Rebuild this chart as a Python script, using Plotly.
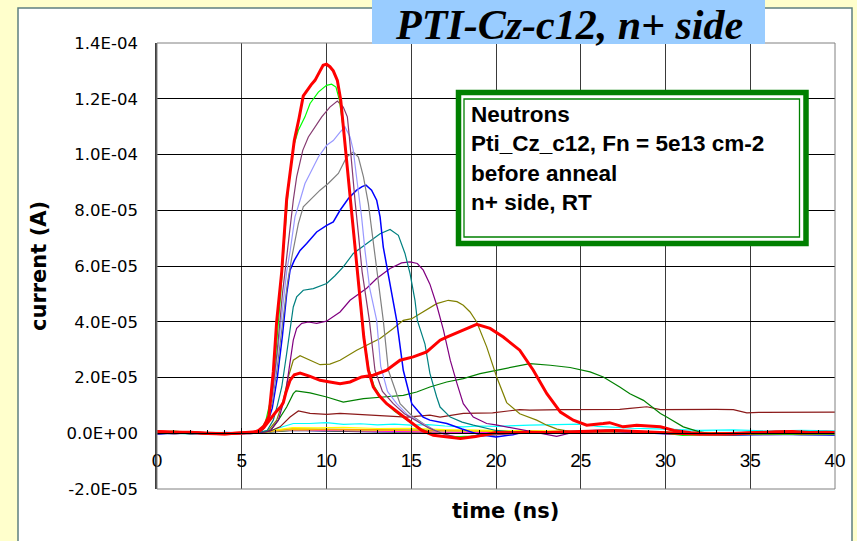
import plotly.graph_objects as go

# ---- axes ---------------------------------------------------------------
x_ticks = [0, 5, 10, 15, 20, 25, 30, 35, 40]
x_ticktext = ["0", "5", "10", "15", "20", "25", "30", "35", "40"]
y_ticks_uA = [-20, 0, 20, 40, 60, 80, 100, 120, 140]
y_ticktext = ["-2.0E-05", "0.0E+00", "2.0E-05", "4.0E-05", "6.0E-05",
              "8.0E-05", "1.0E-04", "1.2E-04", "1.4E-04"]

# ---- TCT current pulses: time in ns, current in uA -------------------------
t_r1 = [0, 1, 2, 3, 4, 5, 5.7, 6.0, 6.3, 6.6, 6.86, 7.06, 7.36, 7.65, 7.89, 8.1,
        8.38, 8.63, 9.09, 9.32, 9.62, 9.8, 10.0, 10.2, 10.4, 10.64, 10.84, 11.13,
        11.39, 11.68, 11.98, 12.2, 12.47, 12.76, 13.1, 13.55, 14.3, 15.1, 15.6,
        16.3, 17.0, 17.9, 18.8, 20.0, 21, 22, 23, 24, 25, 26, 27, 28, 29, 30, 31,
        32, 33, 34, 35, 36, 37, 38, 39, 40]
i_r1 = [0.6, 0.5, 0.3, 0.0, -0.2, 0.1, 0.3, 1.0, 2.5, 6, 22, 40, 58, 84, 95, 105,
        113, 121, 125, 126.6, 130, 132, 132.4, 131.5, 130, 126.6, 119.5, 101.5,
        83.6, 65.6, 46.6, 34.5, 22.6, 16.6, 13.5, 10.6, 7.1, 3.5, 1.1,
        -0.7, -1.3, -1.9, -1.2, 0.3, 0.2, 0.4, 0.3, 0.5, 0.6, 0.8, 1.0, 0.7, 0.4, 0.2, -0.3,
        -0.4, -0.2, -0.3, 0.1, 0.2, 0.3, 0.1, 0.2, 0.2]

t_g1 = [0, 1, 2, 3, 4, 5, 5.8, 6.1, 6.4, 6.7, 7.0, 7.3, 7.5, 7.75, 8.04, 8.34, 8.73,
        9.03, 9.52, 10.0, 10.3, 10.56, 10.76, 10.9, 11.03, 11.2, 11.45, 11.75, 12.0,
        12.25, 12.5, 12.8, 13.3, 14.0, 14.8, 15.6, 16.5, 17.5, 18.5, 19.5, 20.5, 22,
        24, 26, 27, 28, 30, 31, 32, 34, 36, 38, 40]
i_g1 = [0.3, 0.8, 0.2, -0.3, 0.2, 0.0, 0.4, 1.2, 4, 12, 28, 50, 68, 88, 102.7, 108.7, 113.5,
        118.3, 122.4, 124.8, 125.2, 124.2, 119.5, 113.5, 107.5, 97, 80, 62, 46,
        33, 23, 17, 12, 8, 4.5, 1.5, -0.8, -1.3, -1.0, -0.4, 0.2, 0.3,
        0.4, 0.9, 1.2, 0.6, 0.0, -0.8, -0.6, -0.5, -0.3, -0.4, -0.3]

t_p1 = [0, 1, 2, 3, 4, 5, 5.9, 6.2, 6.5, 6.8, 7.1, 7.4, 7.69, 7.85, 8.04, 8.24, 8.44,
        8.6, 8.93, 9.42, 9.72, 10.2, 10.64, 10.99, 11.23, 11.33, 11.49, 11.68, 11.88,
        12.1, 12.53, 12.86, 13.3, 13.94, 14.6, 15.3, 16.0, 16.8, 17.5, 18.3, 19.2, 20,
        21, 22, 23, 24, 25, 26, 27, 28, 29, 30, 32, 34, 36, 38, 40]
i_p1 = [-0.2, 0.3, 0.5, 0.1, -0.4, 0.2, 0.3, 1.5, 5, 14, 30, 50, 65.6, 74, 83.6, 92, 96.8,
        101.5, 106.3, 110.5, 113.5, 117, 119.2, 117, 113.5, 107.5, 95.5, 83.6, 71.6,
        58, 40.5, 22.6, 15, 10.6, 7, 4.5, 2, 0, -1.2, -1.5, -1, -0.5,
        0, 0.3, 0.1, 0.4, 0.7, 1, 1.2, 0.8, 0.5, 0.2, -0.3, -0.2, -0.4, 0.0, -0.2]

t_lb = [0, 1, 2, 3, 4, 5, 5.9, 6.2, 6.5, 6.8, 7.1, 7.4, 7.65, 7.86, 7.98, 8.14, 8.44,
        8.73, 9.03, 9.52, 10.01, 10.4, 10.8, 11.09, 11.39, 11.58, 11.82, 12.07, 12.27,
        12.55, 12.96, 13.2, 13.6, 14.14, 14.8, 15.5, 16.2, 17, 17.8, 18.6, 19.4, 20.2,
        21, 22, 23, 24, 25, 26, 27, 28, 29, 30, 32, 34, 36, 38, 40]
i_lb = [0.2, -0.3, 0.4, 0.2, 0.0, -0.2, 0.3, 1.3, 4.5, 13, 28, 45, 58, 65.6, 70.4, 77.6, 83.6,
        89.6, 93.2, 99.1, 103.3, 105, 108, 109.9, 106.3, 101.5, 89.6, 77.6, 65.6,
        52, 40.5, 24, 15, 10.6, 6.5, 4, 1.5, -0.5, -1.5, -1.3, -0.8, -0.3,
        0.1, 0.3, 0.2, 0.5, 0.8, 1.1, 0.9, 0.6, 0.3, 0.1, -0.2, -0.4, -0.1, -0.3, -0.1]

t_gr = [0, 1, 2, 3, 4, 5, 5.9, 6.2, 6.5, 6.8, 7.1, 7.4, 7.7, 7.95, 8.14, 8.34, 8.63,
        9.03, 9.62, 10.1, 10.7, 11.19, 11.58, 11.88, 12.18, 12.47, 12.72, 13.0, 13.35,
        13.65, 14.34, 15.0, 15.7, 16.4, 17.2, 18, 18.8, 19.6, 20.4, 21.2, 22, 23, 24,
        25, 26, 27, 28, 29, 30, 32, 34, 36, 38, 40]
i_gr = [0.1, 0.4, -0.2, 0.3, 0.2, 0.0, 0.2, 1, 4, 11, 24, 40, 54, 63, 69.2, 75.2, 81.2,
        83.6, 87.2, 89.6, 93.2, 99.1, 100.9, 99.1, 92, 82.4, 70.4, 56, 40.5,
        22.6, 10.6, 6.5, 3.5, 1, -0.8, -1.6, -1.2, -0.6, -0.2, 0.1, 0.3, 0.2, 0.5,
        0.7, 1.0, 0.8, 0.5, 0.3, 0.0, -0.3, -0.2, -0.4, -0.2, -0.3]

t_bl = [0, 1, 2, 3, 4, 5, 5.9, 6.2, 6.5, 6.8, 7.1, 7.4, 7.65, 7.85, 8.1, 8.44, 8.83,
        9.42, 10.01, 10.4, 10.8, 11.29, 11.78, 12.1, 12.33, 12.66, 12.96, 13.16, 13.35,
        13.55, 13.85, 14.14, 14.53, 15.03, 15.7, 16.1, 17.1, 18, 19, 20, 21, 21.5,
        22.5, 24, 25, 26, 27, 28, 29, 30, 32, 34, 36, 38, 40]
i_bl = [-0.3, 0.2, 0.0, -0.2, 0.3, 0.1, 0.2, 1, 3.5, 9, 20, 35, 50, 58.5, 62, 65.6, 68.1,
        72.2, 74.6, 75.8, 80, 84.2, 87.2, 88.5, 89, 87.2, 83.6, 77.6, 66.8,
        59.7, 50.1, 40.5, 22.6, 10.6, 5.8, 4.7, 3.5, 1.5, -0.5, -1.3, -0.5, 0.3,
        0.2, 0.4, 0.6, 0.9, 0.7, 0.3, 0.1, -0.2, -0.5, -0.6, -0.4, -0.5, -0.6]

t_te = [0, 1, 2, 3, 4, 5, 6.0, 6.5, 6.86, 7.1, 7.36, 7.65, 7.85, 8.04, 8.24, 8.63, 9.22,
        10.01, 10.5, 10.99, 11.58, 12.37, 13.16, 13.75, 14.24, 14.63, 14.93, 15.22,
        15.36, 15.81, 16.1, 16.5, 16.7, 17.3, 18.0, 18.66, 20, 21, 22, 23, 24, 25, 26,
        27, 28, 29, 30, 32, 34, 36, 38, 40]
i_te = [0.2, -0.2, 0.3, 0.0, -0.1, 0.2, 0.3, 1, 4.7, 10, 16.6, 28.6, 38.1, 45.3, 48.9, 51.3, 51.9,
        53.7, 56.5, 59.7, 64.5, 68.1, 71.6, 73.1, 71, 64.5, 57.3, 47.7,
        40.5, 32, 21.5, 13, 9.4, 5.8, 4, 2.9, 1, 0.5, 0.3, 0.4, 0.2, 0.5, 0.6,
        0.8, 0.7, 0.4, 0.2, -0.2, -0.3, -0.1, -0.3, -0.2]

t_p2 = [0, 1, 2, 3, 4, 5, 6.0, 6.4, 6.7, 7.16, 7.55, 7.85, 8.04, 8.24, 8.54, 8.93, 9.42,
        10.0, 10.8, 11.39, 11.98, 12.37, 12.96, 13.75, 14.43, 14.93, 15.36, 15.71,
        16.1, 16.5, 16.9, 17.3, 17.7, 18.07, 18.66, 19.45, 20.0, 21.6, 22.6, 23.58,
        24.6, 25.5, 26.5, 27.5, 28.5, 30, 32, 34, 36, 38, 40]
i_p2 = [0.1, 0.3, -0.2, 0.2, 0.0, -0.1, 0.2, 0.5, 1, 4.7, 13, 25, 33.4, 37.6, 39.4, 39.9, 39.4,
        40.2, 43.5, 47.7, 50.4, 52, 55.5, 59.1, 61.1, 61.5, 60.9, 58.5,
        53.5, 46, 37, 26.2, 17.8, 10.6, 5.8, 3.5, 3, 1.1, 0, -1.1,
        0.4, 0.5, 1, 0.8, 0.5, 0.2, -0.2, -0.3, -0.5, -0.3, -0.4]

t_ol = [0, 1, 2, 3, 4, 5, 6.0, 6.5, 7.06, 7.45, 7.75, 8.04, 8.44, 9.03, 9.62, 10.2, 10.8,
        11.78, 12.57, 13.16, 13.94, 14.53, 15.03, 15.71, 16.5, 17.19, 17.7, 18.07,
        18.47, 18.86, 19.45, 20.04, 20.63, 21.4, 22.4, 23.0, 23.6, 24.5, 25.5, 26.5,
        27.5, 28.5, 30, 32, 34, 36, 38, 40]
i_ol = [0.2, -0.1, 0.3, 0.1, -0.2, 0.0, 0.2, 0.5, 4.7, 11.8, 20.2, 26.2, 27.8, 26.2, 24.6, 24.8, 26.2,
        29.8, 32.2, 34, 37.6, 40.5, 41.1, 43.5, 46.5, 47.7, 47.2, 45.9,
        43.5, 39.9, 31, 20.2, 11, 7, 4.7, 2.9, 1.5, 0.5, 0.7, 1,
        0.8, 0.4, 0.1, -0.3, -0.2, -0.4, -0.2, -0.3]

t_r2 = [0, 1, 2, 3, 4, 5, 5.8, 6.0, 6.3, 6.6, 7.0, 7.3, 7.45, 7.6, 7.85, 8.1, 8.44,
        9.03, 9.62, 10.2, 10.8, 11.39, 12.07, 12.76, 13.55, 14.34, 15.12, 15.91, 16.7,
        17.09, 18.07, 18.86, 19.65, 20.43, 21.4, 22.2, 23.0, 23.8, 24.56, 25.35, 26.33,
        26.7, 27.5, 28.3, 29.7, 30.5, 31.5, 32.5, 33.5, 34.5, 35.5, 36.5, 37.5, 38.5,
        39.5, 40]
i_r2 = [0.5, 0.2, 0.4, -0.1, -0.3, 0.2, 0.4, 0.6, 2, 4.5, 7.5, 9.5, 11, 14.5, 19, 21, 21.6,
        20.4, 19, 18.4, 17.8, 18.4, 20.2, 20.8, 22.6, 26.2, 27.4, 29.2, 33.4,
        34.5, 37, 39.1, 37.6, 34.5, 29.8, 22.6, 14.2, 7.6, 4.7, 2.9, 3.5,
        3.8, 2.3, 2.9, 2.3, 1.0, 0.2, -0.3, -0.2, 0.1, 0.3, 0.5, 0.6, 0.3,
        0.4, 0.3]

t_g2 = [0, 1, 2, 3, 4, 5, 6.0, 6.7, 7.16, 7.65, 8.04, 8.2, 9.03, 10.01, 10.99, 12.18,
        13.35, 14.53, 15.32, 16.1, 17.09, 18.07, 19.06, 20.04, 21.02, 22.0, 23.2, 24.37,
        25.55, 26.33, 27.3, 27.9, 28.7, 29.7, 30.07, 31.05, 32, 33, 34, 35, 36, 37, 38,
        39, 40]
i_g2 = [0.2, 0.4, 0.1, -0.3, 0.2, 0.1, 0.3, 1, 4.7, 9.4, 14.2, 15.2, 14.5, 13, 11.2, 12.4,
        13, 13.6, 14.8, 16.6, 18.4, 19.6, 21.4, 22.6, 23.6, 25, 24.4, 23.6,
        22, 20.2, 16.6, 14.2, 11.8, 7.1, 5.8, 2.3, 0.5, -0.4, -0.6, -0.5, -0.6, -0.3, -0.5,
        -0.4, -0.5]

t_ma = [0, 1, 2, 3, 4, 5, 6.0, 6.7, 7.26, 7.85, 8.34, 9.03, 10.01, 10.8, 11.78, 12.76,
        13.75, 14.73, 16.1, 16.7, 18.07, 19.8, 21.4, 22, 23.97, 25.94, 27.3, 27.9, 28.9,
        29.7, 31, 32, 33, 34, 34.8, 35.5, 37.1, 38.5, 40]
i_ma = [0.1, 0.3, -0.1, 0.2, 0.0, 0.2, 0.3, 0.8, 2.3, 5.8, 8.0, 7.1, 6.8, 7.1, 6.8, 6.5,
        6.2, 5.8, 6.5, 5.8, 7.1, 7.3, 8.5, 8.3, 8.5, 8.5, 8.6, 8.9, 9.5,
        8.5, 8.6, 8.5, 8.6, 8.5, 7.3, 7.5, 7.6, 7.5, 7.6]

t_cy = [0, 1, 2, 3, 4, 5, 6.0, 6.6, 7.2, 8.04, 9.0, 10, 11, 12, 13, 14, 15, 16, 17, 18.07,
        19, 20, 22, 24, 25, 26, 27, 28, 30, 32, 34, 36, 38, 40]
i_cy = [0.0, 0.2, -0.2, 0.1, -0.3, 0.0, 0.2, 0.8, 2, 3.5, 3.5, 3.8, 3.2, 3.4, 3.0, 3.3, 2.9,
        3.1, 2.6, 2.3, 2.6, 2.5, 2.9, 3.0, 3.3, 2.5, 2.2, 1.8, 1.5, 1.0, 1.2, 0.8, 1.0, 0.9]

# low-bias pulses that barely leave the baseline
t_low = [0, 2, 4, 5.5, 6.2, 7.0, 8.0, 9.5, 11, 13, 15, 17, 19, 21, 23, 25, 27, 29, 31,
         33, 35, 37, 39, 40]
i_yellow = [0.1, -0.1, 0.2, 0.0, 0.3, 1.2, 2.0, 1.9, 2.1, 1.7, 1.8, 1.3, 1.1, 0.9, 0.8,
            0.7, 0.9, 0.5, 0.3, 0.2, 0.1, 0.2, 0.0, 0.1]
i_orange = [0.0, 0.2, 0.0, 0.1, 0.3, 1.0, 1.7, 1.5, 1.4, 1.2, 1.1, 0.9, 0.8, 0.6, 0.5,
            0.6, 0.8, 0.4, 0.1, 0.0, 0.1, -0.1, 0.0, 0.1]
i_gold = [0.2, 0.0, -0.1, 0.1, 0.2, 0.9, 1.4, 1.3, 1.2, 1.0, 0.9, 0.7, 0.6, 0.5, 0.4,
          0.5, 0.6, 0.3, 0.0, -0.1, 0.0, 0.1, -0.1, 0.0]
i_navy = [-0.2, 0.1, 0.0, -0.1, 0.2, 0.6, 1.0, 0.8, 0.6, 0.5, 0.4, 0.2, 0.1, 0.0, 0.1,
          0.2, 0.3, 0.0, -0.3, -0.4, -0.2, -0.4, -0.3, -0.5]
i_magenta = [0.2, 0.0, 0.1, 0.2, 0.3, 0.8, 1.3, 1.1, 0.9, 0.7, 0.6, 0.4, 0.3, 0.4, 0.3,
             0.5, 0.6, 0.2, 0.0, -0.1, 0.1, 0.0, -0.2, 0.0]
i_lime = [0.0, 0.3, -0.2, 0.0, 0.2, 0.7, 1.1, 1.0, 0.8, 0.6, 0.5, 0.3, 0.2, 0.1, 0.2,
          0.4, 0.5, 0.1, -0.2, -0.3, -0.2, -0.1, -0.3, -0.2]
i_sky = [0.1, -0.2, 0.2, 0.0, 0.2, 0.9, 1.5, 1.4, 1.3, 1.1, 1.0, 0.8, 0.7, 0.7, 0.6,
         0.8, 0.9, 0.6, 0.3, 0.2, 0.3, 0.1, 0.2, 0.1]

# (time, current, colour, width) in drawing order, the two bold red pulses last
curves = [
    (t_low, i_navy, "#000080", 1.2),
    (t_low, i_lime, "#99CC00", 1.2),
    (t_low, i_magenta, "#FF00FF", 1.2),
    (t_low, i_sky, "#00CCFF", 1.2),
    (t_low, i_gold, "#FFCC00", 1.2),
    (t_low, i_orange, "#FF9900", 1.2),
    (t_low, i_yellow, "#FFFF00", 1.2),
    (t_cy, i_cy, "#00FFFF", 1.2),
    (t_ma, i_ma, "#8B1A1A", 1.2),
    (t_g2, i_g2, "#008000", 1.2),
    (t_ol, i_ol, "#808000", 1.2),
    (t_p2, i_p2, "#800080", 1.2),
    (t_te, i_te, "#008080", 1.2),
    (t_bl, i_bl, "#0000FF", 1.5),
    (t_gr, i_gr, "#808080", 1.2),
    (t_lb, i_lb, "#9999FF", 1.2),
    (t_p1, i_p1, "#853A70", 1.2),
    (t_g1, i_g1, "#00FF00", 1.2),
    (t_r2, i_r2, "#FF0000", 3),
    (t_r1, i_r1, "#FF0000", 3),
]

W, H = 857, 541
L, R, T, B = 157, 22, 43, 52
PW, PH = W - L - R, H - T - B


def px(x):
    return (x - L) / PW


def py(y):
    return (H - B - y) / PH


fig = go.Figure()
for t, cur, color, width in curves:
    fig.add_trace(go.Scatter(
        x=t, y=[v * 1e-6 for v in cur], mode="lines",
        line=dict(color=color, width=width), showlegend=False, hoverinfo="skip"))

shapes = [
    # white chart panel on the slide
    dict(type="rect", xref="paper", yref="paper", x0=px(18), x1=px(852),
         y0=py(560), y1=py(8), fillcolor="white",
         line=dict(color="#5F8080", width=1.5), layer="below"),
    # plot frame
    dict(type="rect", xref="paper", yref="paper", x0=0, x1=1, y0=0, y1=1,
         line=dict(color="#808080", width=1), layer="above"),
    # title banner
    dict(type="rect", xref="paper", yref="paper", x0=px(372), x1=px(765),
         y0=py(44), y1=py(-2), fillcolor="#99CCFF", line=dict(width=0), layer="above"),
    # info box, double green border
    dict(type="rect", xref="paper", yref="paper", x0=px(458.5), x1=px(806),
         y0=py(243.5), y1=py(92.5), fillcolor="white",
         line=dict(color="#008000", width=5.5), layer="above"),
    dict(type="rect", xref="paper", yref="paper", x0=px(464), x1=px(799.5),
         y0=py(237), y1=py(99), line=dict(color="#008000", width=1.3), layer="above"),
]

annotations = [
    dict(text="<b><i>PTI-Cz-c12, n+ side</i></b>", xref="paper", yref="paper",
         x=px(569), y=py(25), xanchor="center", yanchor="middle", showarrow=False,
         font=dict(family="Liberation Serif", size=42, color="black")),
    dict(text="Neutrons<br>Pti_Cz_c12, Fn = 5e13 cm-2<br>before anneal<br>n+ side, RT",
         xref="paper", yref="paper", x=px(469), y=py(100), xanchor="left", yanchor="top",
         align="left", showarrow=False,
         font=dict(family="Liberation Sans", size=22.5, color="black", weight="bold")),
    dict(text="<b>current (A)</b>", xref="paper", yref="paper", x=px(39), y=0.5,
         xanchor="center", yanchor="middle", textangle=-90, showarrow=False,
         font=dict(family="DejaVu Sans", size=21, color="black")),
    dict(text="<b>time (ns)</b>", xref="paper", yref="paper", x=px(505), y=py(511),
         xanchor="center", yanchor="middle", showarrow=False,
         font=dict(family="DejaVu Sans", size=21, color="black")),
]

fig.update_layout(
    width=W, height=H, margin=dict(l=L, r=R, t=T, b=B, pad=0),
    paper_bgcolor="#FFFFCC", plot_bgcolor="white",
    shapes=shapes, annotations=annotations, showlegend=False,
    xaxis=dict(range=[0, 40], tickmode="array", tickvals=x_ticks, ticktext=x_ticktext,
               showgrid=True, gridcolor="#3A3A3A", gridwidth=1, zeroline=False,
               showline=True, linecolor="black", linewidth=1,
               anchor="free", position=0.125,
               ticks="inside", ticklen=5, tickcolor="black", ticklabelstandoff=10,
               tickfont=dict(family="Liberation Sans", size=19, color="black"),
               minor=dict(dtick=1, tick0=0, ticks="inside", ticklen=3,
                          tickcolor="black", showgrid=False)),
    yaxis=dict(range=[-2e-5, 1.4e-4], tickmode="array",
               tickvals=[v * 1e-6 for v in y_ticks_uA], ticktext=y_ticktext,
               showgrid=True, gridcolor="black", gridwidth=1, zeroline=False,
               showline=True, linecolor="#404040", linewidth=1.5,
               ticks="", ticklabelstandoff=14,
               tickfont=dict(family="DejaVu Sans", size=16.5, color="black")),
)

fig.write_html("out.html")
